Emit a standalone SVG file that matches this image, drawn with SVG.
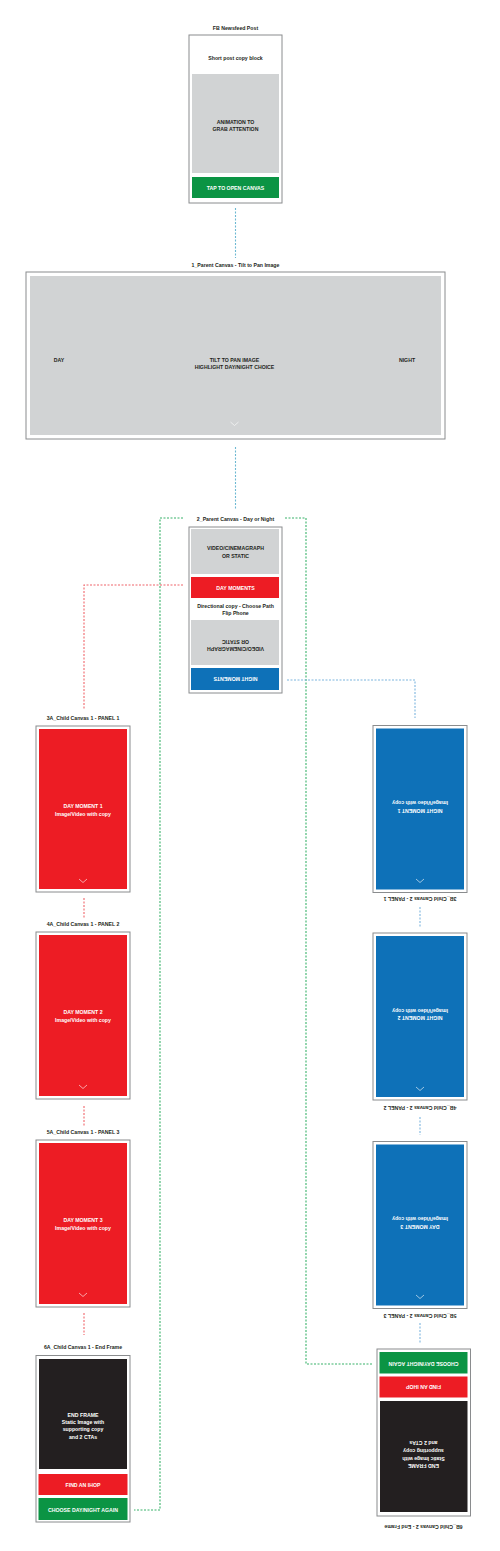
<svg xmlns="http://www.w3.org/2000/svg" width="500" height="1551" viewBox="0 0 500 1551">
<style>
text{font-family:"Liberation Sans",Arial,sans-serif;font-weight:bold;font-size:5.2px;text-anchor:middle;dominant-baseline:central}
.t{fill:#231F20}
.w{fill:#FFFFFF}
.k{fill:#231F20}
.frame{fill:#FFFFFF;stroke:#8A8C8E;stroke-width:1}
.gray{fill:#D1D3D4}
.red{fill:#ED1C24}
.blue{fill:#0E71B8}
.green{fill:#0B9444}
.black{fill:#231F20}
.chev{fill:none;stroke:#FFFFFF;stroke-width:0.6}
.cg{fill:none;stroke:#39B26A;stroke-width:1.1;stroke-dasharray:2 1.5}
.cr{fill:none;stroke:#F0656B;stroke-width:1.1;stroke-dasharray:2 1.5}
.cb{fill:none;stroke:#7DB5DE;stroke-width:1.1;stroke-dasharray:2 1.5}
.ct{fill:none;stroke:#6DB8D2;stroke-width:1.1;stroke-dasharray:2 1.5}
</style>
<rect width="500" height="1551" fill="#FFFFFF"/>

<g id="connectors">
<path class="ct" d="M235.5,208 V258"/>
<path class="ct" d="M235.5,447 V510"/>
<path class="cg" d="M183,518 H160 V1510 H134"/>
<path class="cg" d="M285,518 H306 V1364 H373"/>
<path class="cr" d="M183,585 H84 V709"/>
<path class="cr" d="M84,898 V918"/>
<path class="cr" d="M84,1106 V1126"/>
<path class="cr" d="M84,1313 V1335"/>
<path class="cb" d="M287,680 H415 V718"/>
<path class="cb" d="M420,907 V927"/>
<path class="cb" d="M420,1117 V1135"/>
<path class="cb" d="M420,1323 V1343"/>
</g>

<g id="fb-post">
<text class="t" x="235.5" y="27.5">FB Newsfeed Post</text>
<rect class="frame" x="189" y="35" width="93" height="168"/>
<text class="t" x="235.5" y="58">Short post copy block</text>
<rect class="gray" x="192" y="74" width="87" height="99"/>
<text class="k" x="235.5" y="122">ANIMATION TO</text>
<text class="k" x="235.5" y="129">GRAB ATTENTION</text>
<rect class="green" x="192" y="177" width="87" height="21"/>
<text class="w" x="235.5" y="188">TAP TO OPEN CANVAS</text>
</g>

<g id="parent-canvas-1">
<text class="t" x="235.5" y="265">1_Parent Canvas - Tilt to Pan Image</text>
<rect class="frame" x="26" y="272" width="419" height="167"/>
<rect class="gray" x="30" y="276" width="411" height="159"/>
<text class="k" x="59" y="360">DAY</text>
<text class="k" x="234.5" y="360">TILT TO PAN IMAGE</text>
<text class="k" x="234.5" y="367">HIGHLIGHT DAY/NIGHT CHOICE</text>
<text class="k" x="407" y="360">NIGHT</text>
<polyline class="chev" points="230.5,422 234.5,425.5 238.5,422"/>
</g>

<g id="parent-canvas-2">
<text class="t" x="235.5" y="519">2_Parent Canvas - Day or Night</text>
<rect class="frame" x="189" y="527" width="93" height="166"/>
<rect class="gray" x="191" y="529" width="88" height="45"/>
<text class="k" x="235.5" y="548">VIDEO/CINEMAGRAPH</text>
<text class="k" x="235.5" y="555.5">OR STATIC</text>
<rect class="red" x="191" y="577" width="88" height="21"/>
<text class="w" x="235.5" y="587.5">DAY MOMENTS</text>
<text class="t" x="235.5" y="605.5">Directional copy - Choose Path</text>
<text class="t" x="235.5" y="612.5">Flip Phone</text>
<rect class="gray" x="191" y="620" width="88" height="45"/>
<g transform="rotate(180 235.5 645)">
<text class="k" x="235.5" y="641.5">VIDEO/CINEMAGRAPH</text>
<text class="k" x="235.5" y="648.5">OR STATIC</text>
</g>
<rect class="blue" x="191" y="668" width="88" height="22"/>
<text class="w" x="235.5" y="678.5" transform="rotate(180 235.5 678.5)">NIGHT MOMENTS</text>
</g>

<g id="child-3a">
<text class="t" x="83" y="717.5">3A_Child Canvas 1 - PANEL 1</text>
<rect class="frame" x="36" y="726" width="94" height="166"/>
<rect class="red" x="39" y="729" width="88" height="160"/>
<text class="w" x="83" y="806">DAY MOMENT 1</text>
<text class="w" x="83" y="813.5">Image/Video with copy</text>
<polyline class="chev" points="79,879 83,882.5 87,879"/>
</g>

<g id="child-4a">
<text class="t" x="83" y="924">4A_Child Canvas 1 - PANEL 2</text>
<rect class="frame" x="36" y="932" width="94" height="167"/>
<rect class="red" x="39" y="935" width="88" height="161"/>
<text class="w" x="83" y="1012">DAY MOMENT 2</text>
<text class="w" x="83" y="1019.5">Image/Video with copy</text>
<polyline class="chev" points="79,1085 83,1088.5 87,1085"/>
</g>

<g id="child-5a">
<text class="t" x="83" y="1132">5A_Child Canvas 1 - PANEL 3</text>
<rect class="frame" x="36" y="1140" width="94" height="167"/>
<rect class="red" x="39" y="1143" width="88" height="161"/>
<text class="w" x="83" y="1220">DAY MOMENT 3</text>
<text class="w" x="83" y="1227.5">Image/Video with copy</text>
<polyline class="chev" points="79,1293 83,1296.5 87,1293"/>
</g>

<g id="child-6a">
<text class="t" x="83" y="1347">6A_Child Canvas 1 - End Frame</text>
<rect class="frame" x="36" y="1355.5" width="94" height="166.5"/>
<rect class="black" x="39" y="1359" width="88" height="110"/>
<text class="w" x="83" y="1415">END FRAME</text>
<text class="w" x="83" y="1422">Static Image with</text>
<text class="w" x="83" y="1429">supporting copy</text>
<text class="w" x="83" y="1436.5">and 2 CTAs</text>
<rect class="red" x="38.5" y="1474" width="89" height="21"/>
<text class="w" x="83" y="1485">FIND AN IHOP</text>
<rect class="green" x="38.5" y="1498" width="89" height="22"/>
<text class="w" x="83" y="1510">CHOOSE DAY/NIGHT AGAIN</text>
</g>

<g id="child-3b">
<rect class="frame" x="373" y="725.5" width="94" height="167"/>
<rect class="blue" x="376" y="728.5" width="88" height="161"/>
<g transform="rotate(180 420 807)">
<text class="w" x="420" y="803.5">NIGHT MOMENT 1</text>
<text class="w" x="420" y="811">Image/Video with copy</text>
</g>
<polyline class="chev" points="416,879 420,882.5 424,879"/>
<text class="t" x="420" y="899" transform="rotate(180 420 899)">3B_Child Canvas 2 - PANEL 1</text>
</g>

<g id="child-4b">
<rect class="frame" x="373" y="933" width="94" height="167"/>
<rect class="blue" x="376" y="936" width="88" height="161"/>
<g transform="rotate(180 420 1014.5)">
<text class="w" x="420" y="1011">NIGHT MOMENT 2</text>
<text class="w" x="420" y="1018.5">Image/Video with copy</text>
</g>
<polyline class="chev" points="416,1087 420,1090.5 424,1087"/>
<text class="t" x="420" y="1108" transform="rotate(180 420 1108)">4B_Child Canvas 2 - PANEL 2</text>
</g>

<g id="child-5b">
<rect class="frame" x="373" y="1141.5" width="94" height="167"/>
<rect class="blue" x="376" y="1144.5" width="88" height="161"/>
<g transform="rotate(180 420 1223)">
<text class="w" x="420" y="1219.5">DAY MOMENT 3</text>
<text class="w" x="420" y="1227">Image/Video with copy</text>
</g>
<polyline class="chev" points="416,1295 420,1298.5 424,1295"/>
<text class="t" x="420" y="1315.5" transform="rotate(180 420 1315.5)">5B_Child Canvas 2 - PANEL 3</text>
</g>

<g id="child-6b">
<rect class="frame" x="377" y="1349" width="93.5" height="167"/>
<rect class="green" x="379.5" y="1352" width="88" height="21.5"/>
<text class="w" x="423.5" y="1363.5" transform="rotate(180 423.5 1363.5)">CHOOSE DAY/NIGHT AGAIN</text>
<rect class="red" x="379.5" y="1376.5" width="88" height="21"/>
<text class="w" x="423.5" y="1387" transform="rotate(180 423.5 1387)">FIND AN IHOP</text>
<rect class="black" x="380" y="1401" width="87.5" height="111"/>
<g transform="rotate(180 423.5 1454.5)">
<text class="w" x="423.5" y="1443">END FRAME</text>
<text class="w" x="423.5" y="1450.5">Static Image with</text>
<text class="w" x="423.5" y="1458">supporting copy</text>
<text class="w" x="423.5" y="1466">and 2 CTAs</text>
</g>
<text class="t" x="423.5" y="1526.5" transform="rotate(180 423.5 1526.5)">6B_Child Canvas 2 - End Frame</text>
</g>
</svg>
